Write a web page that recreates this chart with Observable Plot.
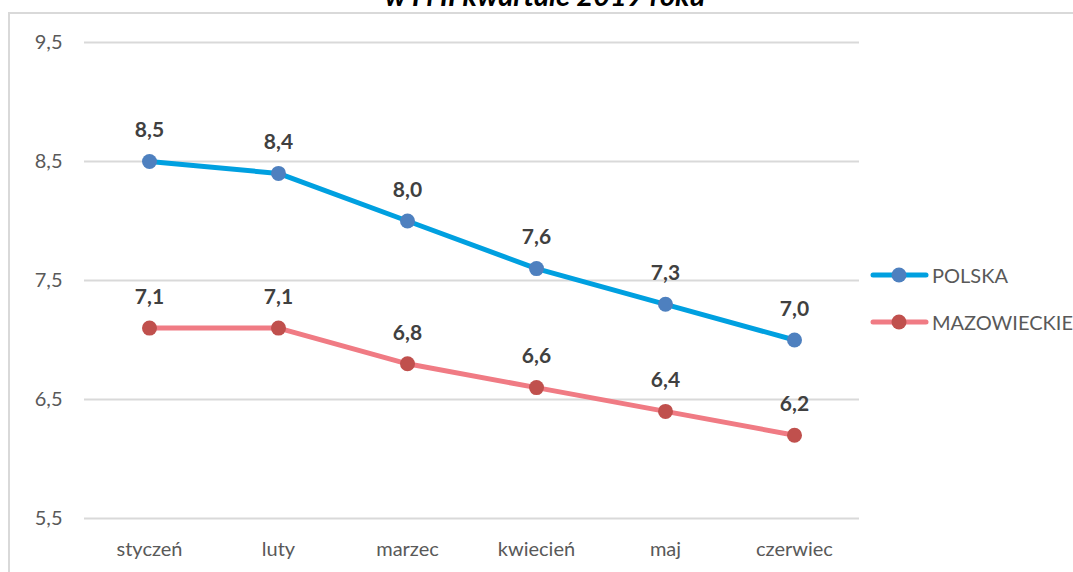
<!DOCTYPE html>
<html><head><meta charset="utf-8">
<script src="https://cdn.jsdelivr.net/npm/d3@7"></script>
<script src="https://cdn.jsdelivr.net/npm/@observablehq/plot@0.6"></script>
<style>
html,body{margin:0;padding:0;background:#fff;}
#wrap{position:relative;width:1073px;height:572px;overflow:hidden;font-family:Lato,"Open Sans",sans-serif;}
#title{position:absolute;left:0;width:1090px;top:-22px;text-align:center;font-weight:bold;font-style:italic;font-size:29px;color:#000;line-height:34px;white-space:nowrap;}
#frame{position:absolute;left:8px;top:12px;width:1200px;height:700px;border:2px solid #d9d9d9;box-sizing:border-box;}
#chart{position:absolute;left:0;top:0;}
.leg{position:absolute;left:870px;display:flex;align-items:center;font-size:20px;color:#595959;}
.leg svg{display:block;margin-right:3px;}
</style></head>
<body><div id="wrap"><div id="frame"></div><div id="title">w I i II kwartale 2019 roku</div><div id="chart"></div><div id="legend"></div></div>
<script>
const months = ["styczeń","luty","marzec","kwiecień","maj","czerwiec"];
const polska = [8.5,8.4,8.0,7.6,7.3,7.0];
const mazowieckie = [7.1,7.1,6.8,6.6,6.4,6.2];
const yTicks = [5.5,6.5,7.5,8.5,9.5];
const seriesNames = ["POLSKA","MAZOWIECKIE"];
const lineColors = ["#00a0e0","#f07b84"];
const dotColors = ["#4e80bf","#c0504d"];

const fmt = v => v.toFixed(1).replace(".", ",");
const rowsP = months.map((m,i)=>({month:m, value:polska[i]}));
const rowsM = months.map((m,i)=>({month:m, value:mazowieckie[i]}));

const chart = Plot.plot({
  width:1073, height:572,
  marginTop:42, marginBottom:54, marginLeft:84, marginRight:214,
  style:{fontFamily:"Lato, 'Open Sans', sans-serif", fontSize:"20px", color:"#595959", background:"transparent", overflow:"visible"},
  x:{type:"point", domain:months, padding:0.5, label:null},
  y:{domain:[5.5,9.5], label:null},
  marks:[
    Plot.ruleY(yTicks,{stroke:"#d9d9d9", strokeWidth:2}),
    Plot.axisY({ticks:yTicks, tickFormat:fmt, tickSize:0, tickPadding:22, label:null, fill:"#595959", fontSize:20}),
    Plot.axisX({tickSize:0, tickPadding:23, label:null, fill:"#595959", fontSize:20}),
    Plot.line(rowsP,{x:"month", y:"value", stroke:lineColors[0], strokeWidth:5}),
    Plot.line(rowsM,{x:"month", y:"value", stroke:lineColors[1], strokeWidth:5}),
    Plot.dot(rowsP,{x:"month", y:"value", r:7.5, fill:dotColors[0]}),
    Plot.dot(rowsM,{x:"month", y:"value", r:7.5, fill:dotColors[1]}),
    Plot.text(rowsP,{x:"month", y:"value", text:d=>fmt(d.value), dy:-31, fontWeight:"bold", fontSize:21, fill:"#404040"}),
    Plot.text(rowsM,{x:"month", y:"value", text:d=>fmt(d.value), dy:-31, fontWeight:"bold", fontSize:21, fill:"#404040"})
  ]
});
document.getElementById("chart").appendChild(chart);

const legend = document.getElementById("legend");
seriesNames.forEach((name,i)=>{
  const d = document.createElement("div");
  d.className = "leg";
  d.style.top = (263 + i*47) + "px";
  d.innerHTML = `<svg width="59" height="24"><line x1="3" y1="12" x2="56" y2="12" stroke="${lineColors[i]}" stroke-width="5" stroke-linecap="round"/><circle cx="29" cy="12" r="7.5" fill="${dotColors[i]}"/></svg><span>${name}</span>`;
  legend.appendChild(d);
});
</script></body></html>
